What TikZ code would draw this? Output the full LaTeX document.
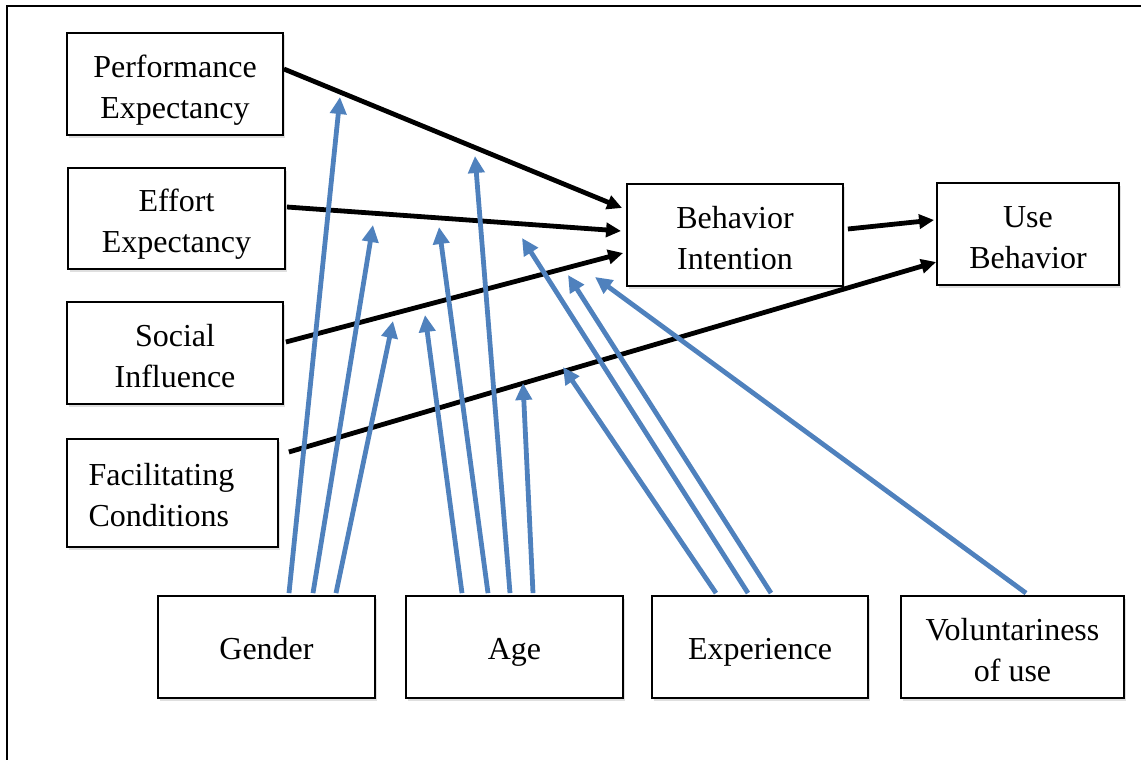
\documentclass[tikz,border=0pt]{standalone}
\usepackage{fontspec}
\setmainfont{Liberation Serif}
\usetikzlibrary{arrows.meta,shadows}
\definecolor{modblue}{RGB}{79,129,189}

\begin{document}
\begin{tikzpicture}[x=1pt, y=-1pt,
    font=\fontsize{32}{41}\selectfont,
    box/.style={draw, line width=1.8pt, fill=white, align=center,
        minimum width=216pt, minimum height=102pt, inner sep=0pt,
        text height=33pt, text depth=8pt,
        drop shadow={shadow xshift=1.5pt, shadow yshift=-2.5pt, opacity=0.25}},
    twoline/.style={text height=76pt},
    path/.style={line width=4.8pt, -{Triangle[length=15pt,width=14pt]}},
    mod/.style={line width=4.8pt, modblue, -{Triangle[length=17pt,width=16pt]}}]
        \useasboundingbox (0,0) rectangle (1141,760);
        \draw[line width=2.5pt] (7,760) -- (7,6) -- (1141,6);

        \node[box, twoline] (pe) at (175,84) {Performance\\Expectancy};
        \node[box, twoline, minimum width=217pt, minimum height=101pt] (ee) at (176.5,218.5) {Effort\\Expectancy};
        \node[box, twoline] (si) at (175,353) {Social\\Influence};
        \node[box, minimum width=211pt, minimum height=108pt, text width=168pt, align=left, inner xsep=21pt, text height=33pt, text depth=49pt] (fc) at (172.5,493) {Facilitating\\Conditions};
        \node[box, twoline] (bi) at (735,235) {Behavior\\Intention};
        \node[box, twoline, minimum width=182pt] (ub) at (1028,234) {Use\\Behavior};
        \node[box, minimum width=217pt] (gender) at (266.5,647) {Gender};
        \node[box, minimum width=217pt] (age) at (514.5,647) {Age};
        \node[box] (exp) at (760,647) {Experience};
        \node[box, twoline, minimum width=223pt] (vol) at (1012.5,647) {Voluntariness\\of use};

        \draw[path] ([yshift=15pt]pe.east) -- ([xshift=-4pt,yshift=27pt]bi.west);
        \draw[path] ([xshift=1pt,yshift=11.5pt]ee.east) -- ([xshift=-5pt,yshift=4pt]bi.west);
        \draw[path] ([xshift=2pt,yshift=11pt]si.east) -- ([xshift=-3pt,yshift=-18pt]bi.west);
        \draw[path] ([xshift=10pt,yshift=41pt]fc.east) -- ([yshift=-28pt]ub.west);
        \draw[path] ([xshift=4pt,yshift=6pt]bi.east) -- ([xshift=-2pt,yshift=14pt]ub.west);

        \coordinate (g1) at (340,97);  \coordinate (g2) at (373,225); \coordinate (g3) at (393,321);
        \coordinate (a1) at (425,315); \coordinate (a2) at (439,227); \coordinate (a3) at (475,156);
        \coordinate (a4) at (523,383); \coordinate (e1) at (563,367); \coordinate (e2) at (522,238);
        \coordinate (e3) at (568,275); \coordinate (v1) at (595,277);

        \foreach \n/\dx/\t in {gender/22.5/g1, gender/46.5/g2, gender/69.5/g3,
            age/-52.5/a1, age/-26.5/a2, age/-4.5/a3, age/18.5/a4,
            exp/-44/e1, exp/-12/e2, exp/11/e3, vol/13.5/v1}
            \draw[mod] ([xshift=\dx pt,yshift=2pt]\n.north) -- (\t);
    \end{tikzpicture}
\end{document}
